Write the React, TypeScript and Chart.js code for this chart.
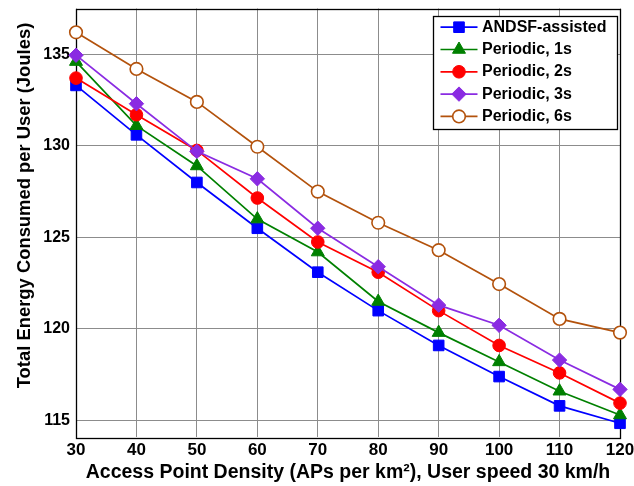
import React, { useEffect, useRef } from 'react';
import { Chart, registerables } from 'chart.js';

Chart.register(...registerables);

const X_VALUES = [30, 40, 50, 60, 70, 80, 90, 100, 110, 120];
const ANDSF = [133.3, 130.6, 128.0, 125.5, 123.1, 121.0, 119.1, 117.4, 115.8, 114.85];
const PERIODIC_1S = [134.6, 131.1, 128.9, 126.0, 124.2, 121.5, 119.8, 118.2, 116.6, 115.3];
const PERIODIC_2S = [133.7, 131.7, 129.75, 127.15, 124.75, 123.1, 121.0, 119.1, 117.6, 115.95];
const PERIODIC_3S = [134.95, 132.3, 129.7, 128.2, 125.5, 123.4, 121.3, 120.2, 118.3, 116.7];
const PERIODIC_6S = [136.2, 134.2, 132.4, 129.95, 127.5, 125.8, 124.3, 122.45, 120.55, 119.8];
const Y_TICKS = [115, 120, 125, 130, 135];
const X_TICKS = [30, 40, 50, 60, 70, 80, 90, 100, 110, 120];
const SERIES_LABELS = ['ANDSF-assisted', 'Periodic, 1s', 'Periodic, 2s', 'Periodic, 3s', 'Periodic, 6s'];
const SERIES_VALUES = [ANDSF, PERIODIC_1S, PERIODIC_2S, PERIODIC_3S, PERIODIC_6S];
const X_TITLE = 'Access Point Density (APs per km\u00B2), User speed 30 km/h';
const Y_TITLE = 'Total Energy Consumed per User (Joules)';

const FONT = "'Liberation Sans', Arial, Helvetica, sans-serif";

const STYLES = [
  { color: '#0000FF', shape: 'rect', radius: 7.5, fill: '#0000FF' },
  { color: '#008000', shape: 'triangle', radius: 7.5, fill: '#008000' },
  { color: '#FF0000', shape: 'circle', radius: 6.3, fill: '#FF0000' },
  { color: '#8A2BE2', shape: 'rectRot', radius: 7.2, fill: '#8A2BE2' },
  { color: '#B3520C', shape: 'circle', radius: 6.3, fill: '#FFFFFF' },
];

function drawMarker(ctx: CanvasRenderingContext2D, shape: string, x: number, y: number, r: number, fill: string, stroke: string, bw: number) {
  ctx.beginPath();
  if (shape === 'rect') {
    const s = Math.SQRT1_2 * r;
    ctx.rect(x - s, y - s, 2 * s, 2 * s);
  } else if (shape === 'triangle') {
    ctx.moveTo(x, y - r);
    ctx.lineTo(x + r * Math.sin(Math.PI / 3), y + r / 2);
    ctx.lineTo(x - r * Math.sin(Math.PI / 3), y + r / 2);
    ctx.closePath();
  } else if (shape === 'rectRot') {
    ctx.moveTo(x, y - r);
    ctx.lineTo(x + r, y);
    ctx.lineTo(x, y + r);
    ctx.lineTo(x - r, y);
    ctx.closePath();
  } else {
    ctx.arc(x, y, r, 0, Math.PI * 2);
  }
  ctx.fillStyle = fill;
  ctx.fill();
  ctx.lineWidth = bw;
  ctx.strokeStyle = stroke;
  ctx.stroke();
}

const framePlugin = {
  id: 'frame',
  beforeDatasetsDraw(chart: any) {
    const { ctx, chartArea: a } = chart;
    ctx.save();
    ctx.strokeStyle = '#000';
    ctx.lineWidth = 1.3;
    ctx.strokeRect(Math.round(a.left) + 0.5, Math.round(a.top) + 0.5, Math.round(a.right - a.left), Math.round(a.bottom - a.top));
    // y-axis title
    ctx.translate(24.5, 205.5);
    ctx.rotate(-Math.PI / 2);
    ctx.font = `bold 18.4px ${FONT}`;
    ctx.fillStyle = '#000';
    ctx.textAlign = 'center';
    ctx.textBaseline = 'middle';
    ctx.fillText(Y_TITLE, 0, 0);
    ctx.restore();
  },
  afterDraw(chart: any) {
    const { ctx, chartArea: a } = chart;
    ctx.save();
    ctx.font = `bold 16px ${FONT}`;
    const labels = chart.data.datasets.map((d: any) => d.label);
    const maxW = Math.max(...labels.map((l: string) => ctx.measureText(l).width));
    const rowH = 22.3;
    const boxW = Math.round(48 + maxW + 12);
    const boxH = rowH * labels.length + 1.5;
    const right = a.right - 3;
    const left = Math.round(right - boxW) + 0.5;
    const top = Math.round(a.top + 7) + 0.5;
    ctx.fillStyle = '#FFFFFF';
    ctx.fillRect(left, top, boxW, boxH);
    ctx.strokeStyle = '#000';
    ctx.lineWidth = 1.3;
    ctx.strokeRect(left, top, boxW, boxH);
    labels.forEach((label: string, i: number) => {
      const st = STYLES[i];
      const cy = top + 10.7 + i * rowH;
      ctx.strokeStyle = st.color;
      ctx.lineWidth = 1.7;
      ctx.beginPath();
      ctx.moveTo(left + 7, cy);
      ctx.lineTo(left + 44, cy);
      ctx.stroke();
      drawMarker(ctx, st.shape, left + 25.5, cy, st.radius, st.fill, st.color, st.fill === '#FFFFFF' ? 1.6 : 1);
      ctx.fillStyle = '#000';
      ctx.textBaseline = 'middle';
      ctx.textAlign = 'left';
      ctx.font = `bold 16px ${FONT}`;
      ctx.fillText(label, left + 48.5, cy);
    });
    ctx.restore();
  },
};

export default function App() {
  const ref = useRef<HTMLCanvasElement | null>(null);

  useEffect(() => {
    document.body.style.margin = '0';
    const canvas = ref.current;
    if (!canvas) return;
    const datasets = SERIES_VALUES.map((vals, i) => {
      const st = STYLES[i];
      return {
        label: SERIES_LABELS[i],
        data: X_VALUES.map((x, j) => ({ x, y: vals[j] })),
        borderColor: st.color,
        backgroundColor: st.fill,
        borderWidth: 1.7,
        pointStyle: st.shape,
        pointRadius: st.radius,
        pointHoverRadius: st.radius,
        pointBackgroundColor: st.fill,
        pointBorderColor: st.color,
        pointBorderWidth: st.fill === '#FFFFFF' ? 1.6 : 1,
        tension: 0,
        fill: false,
        clip: false as any,
        order: -i,
      };
    });
    const chart = new Chart(canvas, {
      type: 'line',
      data: { datasets },
      plugins: [framePlugin],
      options: {
        animation: false,
        responsive: false,
        devicePixelRatio: 1,
        layout: { padding: { top: 7, right: 14, left: 0, bottom: 0 } },
        plugins: {
          legend: { display: false },
          tooltip: { enabled: false },
        },
        scales: {
          x: {
            type: 'linear',
            min: 30,
            max: 120,
            afterFit: (s: any) => { s.height = 49; s.paddingLeft = 0; s.paddingRight = 0; },
            afterBuildTicks: (s: any) => { s.ticks = X_TICKS.map((v) => ({ value: v })); },
            grid: { color: '#8C8C8C', lineWidth: 1, drawTicks: false },
            border: { display: false },
            ticks: {
              color: '#000',
              padding: 3,
              maxRotation: 0,
              font: { family: FONT, size: 17, weight: 'bold' },
            },
            title: {
              display: true,
              text: X_TITLE,
              color: '#000',
              padding: { top: 0, bottom: 2 },
              font: { family: FONT, size: 19.5, weight: 'bold' },
            },
          },
          y: {
            type: 'linear',
            min: 114.1,
            max: 137.5,
            afterFit: (s: any) => { s.width = 76; s.paddingTop = 0; s.paddingBottom = 0; },
            afterBuildTicks: (s: any) => { s.ticks = Y_TICKS.map((v) => ({ value: v })); },
            grid: { color: '#8C8C8C', lineWidth: 1, drawTicks: false },
            border: { display: false },
            ticks: {
              color: '#000',
              padding: 6,
              font: { family: FONT, size: 16, weight: 'bold' },
            },
            title: { display: false },
          },
        },
      } as any,
    });
    return () => chart.destroy();
  }, []);

  return (
    <div style={{ position: 'absolute', left: 0, top: 0, width: 634, height: 486 }}>
      <canvas ref={ref} width={634} height={486} />
    </div>
  );
}
